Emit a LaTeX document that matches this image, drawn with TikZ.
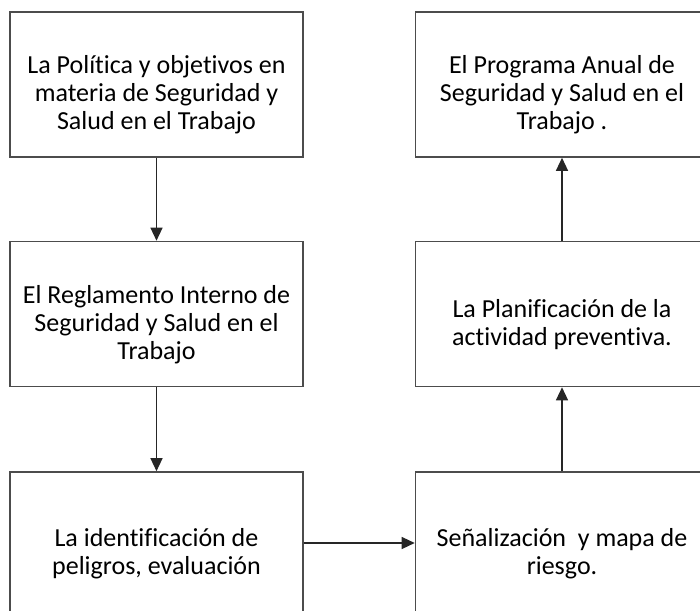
\documentclass[tikz,border=0pt]{standalone}
\usepackage{fontspec}
\setmainfont{Carlito}[Ligatures=NoCommon]
\usetikzlibrary{arrows.meta}

\begin{document}
\begin{tikzpicture}[x=1pt,y=1pt,
	caja/.style={draw=black!70,line width=1.6pt,minimum width=293pt,minimum height=145pt,inner sep=0pt},
	texto/.style={align=center,inner sep=0pt,font=\fontsize{26}{28}\selectfont},
	flecha/.style={draw=black!85,line width=1.3pt,-{Triangle[length=13pt,width=12pt]}}]
			\path[use as bounding box,clip] (0,0) rectangle (700,610);
			\node[caja] (pol) at (156.5,525.5) {};
			\node[caja] (reg) at (156.5,296) {};
			\node[caja,minimum height=142pt] (ide) at (156.5,67) {};
			\node[caja] (pro) at (562,525.5) {};
			\node[caja] (pla) at (562,296) {};
			\node[caja,minimum height=142pt] (sen) at (562,67) {};
			\node[texto] (pol-t) at (156.5,515) {La Política y objetivos en\\materia de Seguridad y\\Salud en el Trabajo};
			\node[texto] (reg-t) at (156.5,285) {El Reglamento Interno de\\Seguridad y Salud en el\\Trabajo};
			\node[texto] (ide-t) at (156.5,56) {La identificación de\\peligros, evaluación};
			\node[texto] (pro-t) at (562,515) {El Programa Anual de\\Seguridad y Salud en el\\Trabajo .};
			\node[texto] (pla-t) at (562,285) {La Planificación de la\\actividad preventiva.};
			\node[texto] (sen-t) at (562,56) {Señalización\ \ y mapa de\\riesgo.};
			\draw[flecha] (pol) -- (reg);
			\draw[flecha] (reg) -- (ide);
			\draw[flecha] (ide) -- (sen);
			\draw[flecha] (sen) -- (pla);
			\draw[flecha] (pla) -- (pro);
\end{tikzpicture}
\end{document}
